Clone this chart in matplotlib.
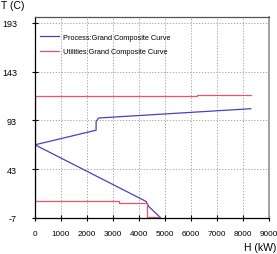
import matplotlib
matplotlib.use("Agg")
import matplotlib.pyplot as plt

# Process Grand Composite Curve (H kW, T C)
process_H = [8300, 2450, 2350, 2350, 0, 2100, 4270, 4380, 4810]
process_T = [105, 95.5, 92, 83, 68, 39.5, 10, 4.6, -6.2]

# Utilities Grand Composite Curve
util_H = [8300, 6230, 6230, 0, 0, 3230, 3230, 4300, 4300, 4800]
util_T = [119.5, 119.5, 118, 118, 10, 10, 8.8, 8.8, -6, -6]

x_ticks = [0, 1000, 2000, 3000, 4000, 5000, 6000, 7000, 8000, 9000]
y_ticks = [-7, 43, 93, 143, 193]

plt.rcParams['font.family'] = ['Liberation Sans', 'DejaVu Sans']
plt.rcParams['axes.unicode_minus'] = False

fig = plt.figure(figsize=(2.77, 2.55), dpi=100)
ax = fig.add_axes([35/277, 1-219/255, (269-35)/277, (219-18)/255])

ax.plot(process_H, process_T, color='#4444bb', lw=0.9, label='Process:Grand Composite Curve')
ax.plot(util_H, util_T, color='#ee5560', lw=0.9, label='Utilities:Grand Composite Curve')

ax.set_xlim(0, 9000)
ax.set_ylim(-7, 199)
ax.set_xticks(x_ticks)
ax.set_yticks(y_ticks)
ax.tick_params(axis='both', direction='inout', length=4, width=0.8, colors='black')
ax.tick_params(axis='y', pad=11, labelsize=6.5)
ax.tick_params(axis='x', pad=6.5, labelsize=5.9)

ax.grid(True, linestyle=(0, (1.5, 2)), color='#999999', lw=0.6)

ax.spines['left'].set_color('black')
ax.spines['bottom'].set_color('black')
ax.spines['top'].set_color('#555555')
ax.spines['right'].set_color('#999999')
ax.spines['right'].set_linewidth(1.3)
for s in ['left', 'bottom', 'top']:
    ax.spines[s].set_linewidth(0.9)

leg = ax.legend(loc='upper left', bbox_to_anchor=(-0.005, 0.95), frameon=False,
                fontsize=5.3, handlelength=2.5, handletextpad=0.6, labelspacing=1.0)

fig.text(1/277, 1-1/255, 'T (C)', fontsize=7.5, ha='left', va='top')
fig.text(276/277, 1-248/255, 'H (kW)', fontsize=7.5, ha='right', va='center')

fig.savefig('out.png', dpi=100)
